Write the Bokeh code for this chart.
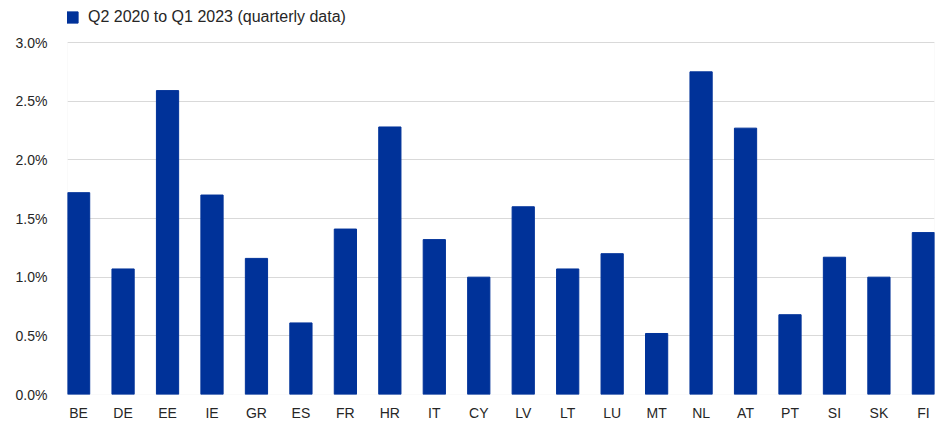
import numpy as np
from bokeh.plotting import figure
from bokeh.models import (Range1d, FixedTicker, PrintfTickFormatter, Legend,
                          LegendItem, ColumnDataSource, BoxAnnotation)
from bokeh.embed import file_html
from bokeh.resources import INLINE

countries = ["BE", "DE", "EE", "IE", "GR", "ES", "FR", "HR", "IT", "CY",
             "LV", "LT", "LU", "MT", "NL", "AT", "PT", "SI", "SK", "FI"]
values = [1.72, 1.07, 2.59, 1.70, 1.16, 0.61, 1.41, 2.28, 1.32, 1.00,
          1.60, 1.07, 1.20, 0.52, 2.75, 2.27, 0.68, 1.17, 1.00, 1.38]
y_ticks = [0.0, 0.5, 1.0, 1.5, 2.0, 2.5, 3.0]
series_name = "Q2 2020 to Q1 2023 (quarterly data)"

BLUE = "#003299"
GRID = "#d9d9d9"
TXT = "#262626"
FONT = "Liberation Sans"

# frame spans the legend area too; the data box (0..3%) sits below it
FRAME_H = 394.0
BOX_TOP_PX = 42.0
y_max = y_ticks[-1]
y_end = y_max * FRAME_H / (FRAME_H - BOX_TOP_PX)
x_start, x_end = -0.25, len(countries) - 0.75

xpos = list(range(len(countries)))
src = ColumnDataSource(data=dict(x=xpos, top=values, name=countries))

p = figure(width=935, height=423, output_backend="svg", toolbar_location=None,
           x_range=Range1d(x_start, x_end),
           y_range=Range1d(0, y_end),
           min_border_left=67, min_border_top=0, min_border_right=1,
           min_border_bottom=22)

r = p.vbar(x="x", top="top", width=0.5, source=src, fill_color=BLUE,
           line_color=BLUE)

p.xaxis.ticker = FixedTicker(ticks=xpos)
p.xaxis.major_label_overrides = {i: c for i, c in zip(xpos, countries)}
p.yaxis.ticker = FixedTicker(ticks=y_ticks)
p.yaxis.formatter = PrintfTickFormatter(format="%.1f%%")

for ax in (p.xaxis[0], p.yaxis[0]):
    ax.axis_line_color = None
    ax.major_tick_line_color = None
    ax.minor_tick_line_color = None
    ax.major_label_text_font = FONT
    ax.major_label_text_font_size = "14px"
    ax.major_label_text_color = TXT
p.yaxis.major_label_standoff = 14
p.xaxis.major_label_standoff = 4

p.xgrid.grid_line_color = None
p.ygrid.grid_line_color = GRID
p.ygrid.ticker = FixedTicker(ticks=y_ticks)
p.outline_line_color = None
p.background_fill_color = "white"
p.border_fill_color = "white"

box = BoxAnnotation(left=x_start, right=x_end, bottom=0, top=y_max,
                    fill_alpha=0, line_color=GRID, line_width=1, level="underlay")
p.add_layout(box)

legend = Legend(items=[LegendItem(label=series_name, renderers=[r])],
                location=(-2, 368), orientation="horizontal",
                padding=0, margin=0, spacing=0,
                glyph_width=14, glyph_height=14, label_height=16,
                label_standoff=9,
                label_text_font=FONT, label_text_font_size="16px",
                label_text_color=TXT, border_line_color=None,
                background_fill_alpha=0)
p.add_layout(legend, "center")

open("out.html", "w").write(file_html(p, INLINE))
